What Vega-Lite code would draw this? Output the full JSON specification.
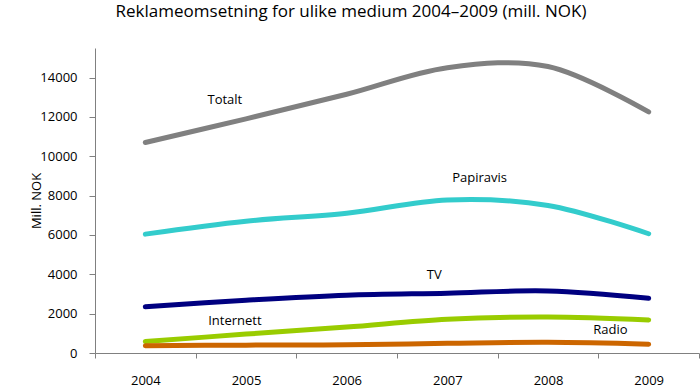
{
  "$schema": "https://vega.github.io/schema/vega-lite/v6.json",
  "width": 604,
  "height": 305,
  "autosize": "none",
  "padding": {"left": 95, "top": 48, "right": 1, "bottom": 38},
  "title": {
    "text": "Reklameomsetning for ulike medium 2004–2009 (mill. NOK)",
    "font": "Open Sans",
    "fontSize": 17,
    "fontWeight": "normal",
    "color": "#000000",
    "anchor": "middle",
    "dx": -46,
    "offset": 27
  },
  "config": {
    "view": {"stroke": null},
    "font": "Open Sans"
  },
  "datasets": {
    "series": [
      {"medium": "Totalt", "year": 2004, "value": 10700},
      {"medium": "Totalt", "year": 2005, "value": 11900},
      {"medium": "Totalt", "year": 2006, "value": 13150},
      {"medium": "Totalt", "year": 2007, "value": 14500},
      {"medium": "Totalt", "year": 2008, "value": 14560},
      {"medium": "Totalt", "year": 2009, "value": 12250},
      {"medium": "Papiravis", "year": 2004, "value": 6040},
      {"medium": "Papiravis", "year": 2005, "value": 6700},
      {"medium": "Papiravis", "year": 2006, "value": 7100},
      {"medium": "Papiravis", "year": 2007, "value": 7780},
      {"medium": "Papiravis", "year": 2008, "value": 7500},
      {"medium": "Papiravis", "year": 2009, "value": 6060},
      {"medium": "TV", "year": 2004, "value": 2350},
      {"medium": "TV", "year": 2005, "value": 2680},
      {"medium": "TV", "year": 2006, "value": 2940},
      {"medium": "TV", "year": 2007, "value": 3040},
      {"medium": "TV", "year": 2008, "value": 3150},
      {"medium": "TV", "year": 2009, "value": 2780},
      {"medium": "Internett", "year": 2004, "value": 580},
      {"medium": "Internett", "year": 2005, "value": 960},
      {"medium": "Internett", "year": 2006, "value": 1320},
      {"medium": "Internett", "year": 2007, "value": 1720},
      {"medium": "Internett", "year": 2008, "value": 1830},
      {"medium": "Internett", "year": 2009, "value": 1680},
      {"medium": "Radio", "year": 2004, "value": 370},
      {"medium": "Radio", "year": 2005, "value": 400},
      {"medium": "Radio", "year": 2006, "value": 420},
      {"medium": "Radio", "year": 2007, "value": 490},
      {"medium": "Radio", "year": 2008, "value": 540},
      {"medium": "Radio", "year": 2009, "value": 450}
    ],
    "labels": [
      {"medium": "Totalt", "year": 2004.79, "value": 12840},
      {"medium": "Papiravis", "year": 2007.32, "value": 8880},
      {"medium": "TV", "year": 2006.87, "value": 3960},
      {"medium": "Internett", "year": 2004.89, "value": 1620},
      {"medium": "Radio", "year": 2008.62, "value": 1170}
    ]
  },
  "resolve": {"axis": {"x": "independent"}},
  "layer": [
    {
      "data": {"name": "series"},
      "mark": {"type": "line", "interpolate": "catmull-rom", "strokeWidth": 5, "strokeCap": "round"},
      "encoding": {
        "x": {
          "field": "year",
          "type": "quantitative",
          "scale": {"domain": [2003.5, 2009.5], "nice": false, "zero": false},
          "axis": {
            "orient": "bottom",
            "values": [2003.5, 2004.5, 2005.5, 2006.5, 2007.5, 2008.5, 2009.5],
            "labels": false,
            "title": null,
            "grid": false,
            "domainColor": "#808080",
            "tickColor": "#808080",
            "tickSize": 5,
            "domainWidth": 1,
            "tickWidth": 1
          }
        },
        "y": {
          "field": "value",
          "type": "quantitative",
          "scale": {"domain": [0, 15500], "nice": false},
          "axis": {
            "values": [0, 2000, 4000, 6000, 8000, 10000, 12000, 14000],
            "format": "d",
            "title": "Mill. NOK",
            "titleFont": "Open Sans",
            "titleFontSize": 13,
            "titleFontWeight": "normal",
            "titleColor": "#000000",
            "titleX": -52,
            "labelFont": "Open Sans",
            "labelFontSize": 13,
            "labelColor": "#000000",
            "labelPadding": 12,
            "grid": false,
            "domainColor": "#808080",
            "tickColor": "#808080",
            "tickSize": 6
          }
        },
        "color": {
          "field": "medium",
          "type": "nominal",
          "scale": {
            "domain": ["Totalt", "Papiravis", "TV", "Internett", "Radio"],
            "range": ["#808080", "#33CCCC", "#000080", "#99CC00", "#CC6600"]
          },
          "legend": null
        }
      }
    },
    {
      "data": {"name": "labels"},
      "mark": {"type": "text", "font": "Open Sans", "fontSize": 13, "color": "#000000", "align": "center", "baseline": "middle"},
      "encoding": {
        "x": {
          "field": "year",
          "type": "quantitative",
          "axis": {
            "orient": "bottom",
            "values": [2004, 2005, 2006, 2007, 2008, 2009],
            "format": "d",
            "title": null,
            "grid": false,
            "domain": false,
            "ticks": false,
            "labelFont": "Open Sans",
            "labelFontSize": 13,
            "labelColor": "#000000",
            "labelPadding": 21
          }
        },
        "y": {"field": "value", "type": "quantitative"},
        "text": {"field": "medium"}
      }
    }
  ]
}
